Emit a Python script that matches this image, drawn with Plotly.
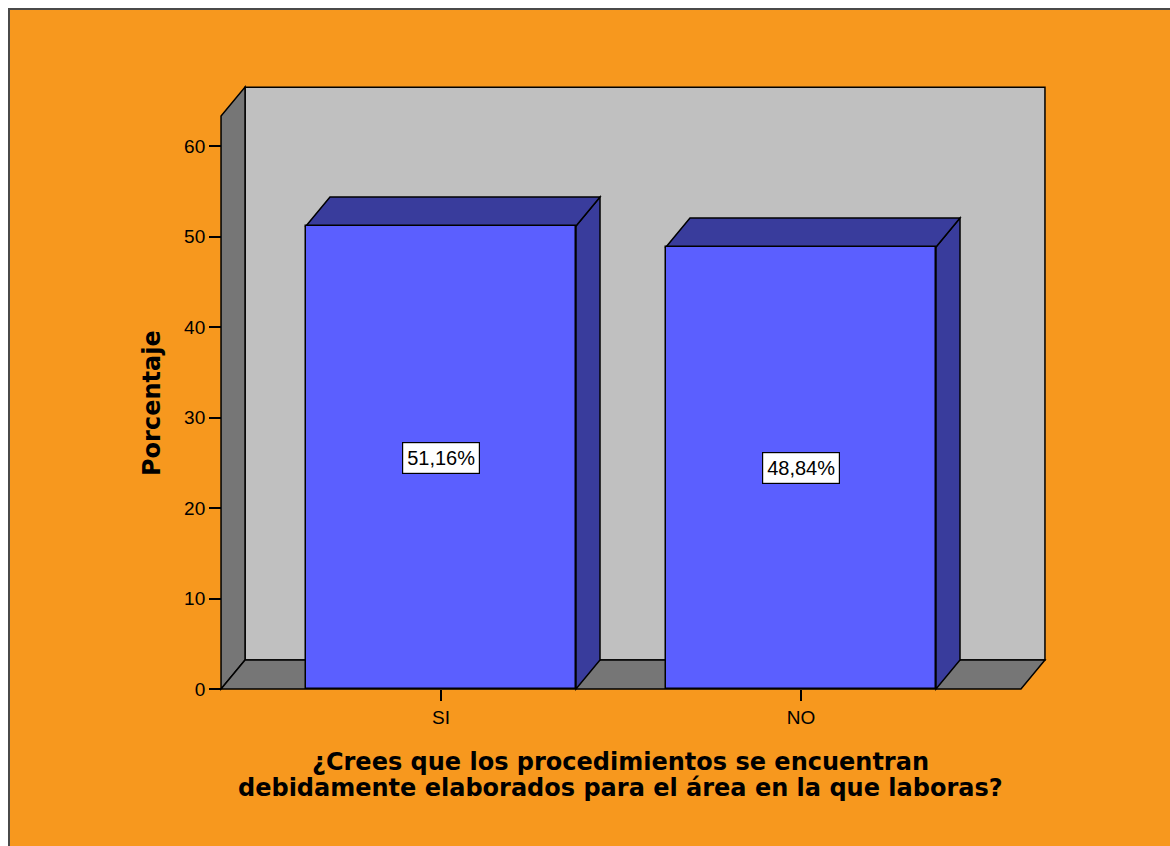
import plotly.graph_objects as go

# ---- data -------------------------------------------------------------
categorias = ["SI", "NO"]
porcentajes = [51.16, 48.84]
marcas_y = [0, 10, 20, 30, 40, 50, 60]

titulo_x = ["¿Crees que los procedimientos se encuentran",
            "debidamente elaborados para el área en la que laboras?"]
titulo_y = "Porcentaje"

# ---- page / scale -----------------------------------------------------
W, H = 1170, 846
PX_X = 360.0          # pixels per category step
PX_Y = 9.05           # pixels per percentage point
ORIG_X, ORIG_Y = 441.0, 689.0   # pixel spot of (first category, 0 %)
ML, MR, MT, MB = 211, 105, 78, 140
PLOT_W = W - ML - MR
PLOT_H = H - MT - MB

x_range = [(ML - ORIG_X) / PX_X, (W - MR - ORIG_X) / PX_X]
y_range = [(ORIG_Y - (H - MB)) / PX_Y, (ORIG_Y - MT) / PX_Y]

# 3-D box geometry in data units
BAR_W = 0.75
DX, DY = 24 / PX_X, 29 / PX_Y          # depth offset of the box
WALL_X0 = -0.611                        # front-left edge of the box
FLOOR_X1 = 1.611                        # front-right edge of the floor
WALL_TOP = 63.3                         # front top of the left wall

ORANGE = "#F7981E"
BACK = "#C0C0C0"
WALL = "#767676"
BAR_FRONT = "#5B5FFF"
BAR_SHADE = "#393C9C"
EDGE = dict(color="black", width=1.5)


def paper(px, py):
    return (px - ML) / PLOT_W, (H - MB - py) / PLOT_H


def poly(pts):
    return "M " + " L ".join(f"{x},{y}" for x, y in pts) + " Z"


shapes = []
# outer orange panel
bx0, by0 = paper(9, 9)
bx1, by1 = paper(W + 10, H + 10)
shapes.append(dict(type="rect", xref="paper", yref="paper", x0=bx0, y0=by1,
                   x1=bx1, y1=by0, fillcolor=ORANGE,
                   line=dict(color="#4a4a4a", width=2), layer="below"))
# back wall
shapes.append(dict(type="rect", xref="x", yref="y",
                   x0=WALL_X0 + DX, x1=FLOOR_X1 + DX, y0=DY, y1=WALL_TOP + DY,
                   fillcolor=BACK, line=EDGE, layer="below"))
# left wall
shapes.append(dict(type="path", xref="x", yref="y", layer="below",
                   path=poly([(WALL_X0, 0), (WALL_X0, WALL_TOP),
                              (WALL_X0 + DX, WALL_TOP + DY), (WALL_X0 + DX, DY)]),
                   fillcolor=WALL, line=EDGE))
# floor
shapes.append(dict(type="path", xref="x", yref="y", layer="below",
                   path=poly([(WALL_X0, 0), (FLOOR_X1, 0),
                              (FLOOR_X1 + DX, DY), (WALL_X0 + DX, DY)]),
                   fillcolor=WALL, line=EDGE))

# top and side faces of each bar
for i, v in enumerate(porcentajes):
    xl, xr = i - BAR_W / 2, i + BAR_W / 2
    shapes.append(dict(type="path", xref="x", yref="y", layer="below",
                       path=poly([(xr, 0), (xr, v), (xr + DX, v + DY), (xr + DX, DY)]),
                       fillcolor=BAR_SHADE, line=EDGE))
    shapes.append(dict(type="path", xref="x", yref="y", layer="below",
                       path=poly([(xl, v), (xr, v), (xr + DX, v + DY), (xl + DX, v + DY)]),
                       fillcolor=BAR_SHADE, line=EDGE))

fig = go.Figure()
fig.add_trace(go.Bar(
    x=list(range(len(categorias))), y=porcentajes, width=BAR_W,
    marker=dict(color=BAR_FRONT, line=EDGE),
    hoverinfo="skip", showlegend=False,
))

TICK_FONT = dict(family="Liberation Sans, Arial, sans-serif", size=19, color="black")
TITLE_FONT = dict(family="DejaVu Sans, Verdana, sans-serif", size=24,
                  color="black", weight="bold")

annotations = []
for i, v in enumerate(porcentajes):
    annotations.append(dict(
        x=i, y=v / 2, xref="x", yref="y", showarrow=False,
        xanchor="center", yanchor="middle",
        text=f"{v:.2f}".replace(".", ",") + "%",
        font=dict(family="Liberation Sans, Arial, sans-serif", size=20, color="black"),
        bgcolor="white", bordercolor="black", borderwidth=1.2, borderpad=4,
    ))

ax, ay = paper(152, 403)
annotations.append(dict(x=ax, y=ay, xref="paper", yref="paper", showarrow=False,
                        xanchor="center", yanchor="middle",
                        text=titulo_y, textangle=-90, font=TITLE_FONT))
for k, linea in enumerate(titulo_x):
    tx, ty = paper(620, 762 + 26 * k)
    annotations.append(dict(x=tx, y=ty, xref="paper", yref="paper",
                            xanchor="center", yanchor="middle",
                            showarrow=False, text=linea, font=TITLE_FONT))

fig.update_layout(
    width=W, height=H,
    margin=dict(l=ML, r=MR, t=MT, b=MB, pad=0),
    paper_bgcolor="white", plot_bgcolor="rgba(0,0,0,0)",
    shapes=shapes, annotations=annotations,
    bargap=0,
    xaxis=dict(range=x_range, anchor="free",
               position=(0 - y_range[0]) / (y_range[1] - y_range[0]),
               tickvals=list(range(len(categorias))), ticktext=categorias,
               ticks="outside", ticklen=11, tickwidth=1.5, tickcolor="black",
               tickfont=TICK_FONT, showgrid=False, zeroline=False,
               showline=False, fixedrange=True),
    yaxis=dict(range=y_range, anchor="free",
               position=(WALL_X0 - x_range[0]) / (x_range[1] - x_range[0]),
               tickvals=marcas_y, ticks="outside", ticklen=12, tickwidth=1.5,
               tickcolor="black", tickfont=TICK_FONT, showgrid=False,
               zeroline=False, showline=False, fixedrange=True),
)

fig.write_html("out.html")
